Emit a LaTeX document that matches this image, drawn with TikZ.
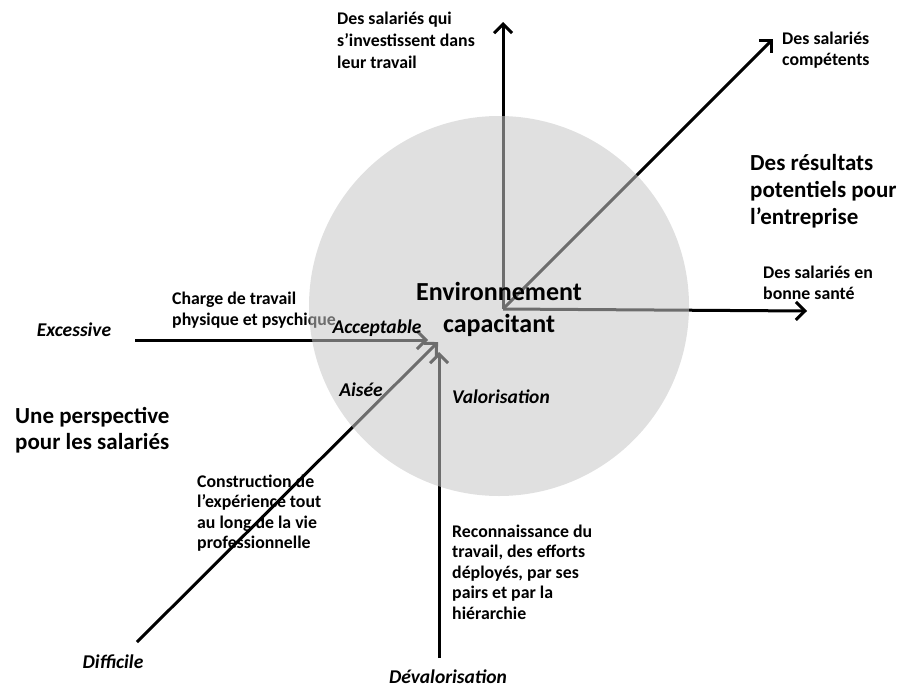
\documentclass[tikz,border=0pt]{standalone}
\usepackage{fontspec}
\setmainfont{Carlito}
\usetikzlibrary{arrows.meta}

\begin{document}
\begin{tikzpicture}[x=1pt,y=-1pt,
  arr/.style={line width=3pt,-{Straight Barb[length=9pt,width=18pt]}},
  txt/.style={anchor=west,align=left,inner sep=0pt,font=\bfseries\fontsize{17.8}{20.5}\selectfont},
  big/.style={anchor=west,align=left,inner sep=0pt,font=\bfseries\fontsize{23}{26}\selectfont},
  lab/.style={inner sep=0pt,font=\bfseries\itshape\fontsize{19.5}{22}\selectfont},
  hubstyle/.style={circle,minimum size=380pt,inner sep=0pt,fill=black!22,fill opacity=0.55}]
\useasboundingbox (0,0) rectangle (901,688);
% end points of the arrows
\coordinate (corner) at (503,309);
\coordinate (invest) at (503,22);
\coordinate (compet) at (773,39);
\coordinate (sante) at (807,311);
\coordinate (excess) at (135,340);
\coordinate (accept) at (428,340);
\coordinate (diffic) at (137,642);
\coordinate (aisee) at (438,342);
\coordinate (deval) at (439,658);
\coordinate (valor) at (439,352);
% arrows
\foreach \tip in {invest,compet,sante} {
  \draw[arr] (corner) -- (\tip);
}
\foreach \from/\to in {excess/accept,diffic/aisee,deval/valor} {
  \draw[arr] (\from) -- (\to);
}
\node[txt] (charge) at (172,310) {Charge de travail\\physique et psychique};
% the circle
\node[hubstyle] (hub) at (499,306) {};
\node[align=center,inner sep=0pt,font=\bfseries\fontsize{26}{32}\selectfont] (env) at (499,309) {Environnement\\capacitant};
% texts
\node[txt,font=\bfseries\fontsize{17.8}{22}\selectfont] (tinvest) at (337,40) {Des salariés qui\\s’investissent dans\\leur travail};
\node[txt] (tcompet) at (782,50) {Des salariés\\compétents};
\node[txt] (tsante) at (763,283) {Des salariés en\\bonne santé};
\node[big,font=\bfseries\fontsize{23}{27}\selectfont] (result) at (750,191) {Des résultats\\potentiels pour\\l’entreprise};
\node[big] (persp) at (15,430) {Une perspective\\pour les salariés};
\node[txt] (constr) at (197,513) {Construction de\\l’expérience tout\\au long de la vie\\professionnelle};
\node[txt] (reconn) at (452,572) {Reconnaissance du\\travail, des efforts\\déployés, par ses\\pairs et par la\\hiérarchie};
% axis labels
\node[lab] (lexcess) at (74,330) {Excessive};
\node[lab] (laccept) at (377,328) {Acceptable};
\node[lab] (laisee) at (361,390) {Aisée};
\node[lab] (lvalor) at (501,397) {Valorisation};
\node[lab] (ldiffic) at (113,662) {Difficile};
\node[lab] (ldeval) at (448,677) {Dévalorisation};
\end{tikzpicture}
\end{document}
